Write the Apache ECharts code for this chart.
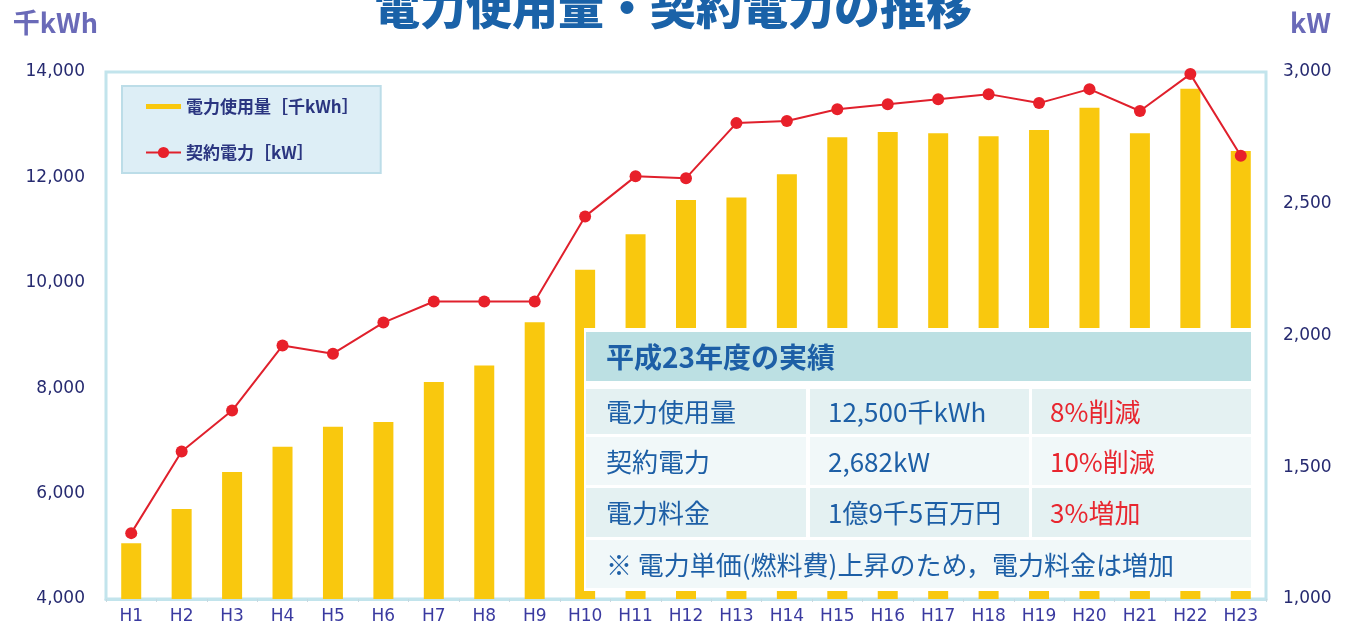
<!DOCTYPE html>
<html>
<head>
<meta charset="utf-8">
<script src="https://cdn.jsdelivr.net/npm/echarts@6/dist/echarts.min.js"></script>
<style>
  html, body { margin: 0; padding: 0; background: #ffffff; }
  #chart { width: 1346px; height: 627px; }
</style>
</head>
<body>
<div id="chart"></div>
<script>
// 年度
const categories = ['H1', 'H2', 'H3', 'H4', 'H5', 'H6', 'H7', 'H8', 'H9', 'H10', 'H11', 'H12',
  'H13', 'H14', 'H15', 'H16', 'H17', 'H18', 'H19', 'H20', 'H21', 'H22', 'H23']
// 電力使用量 [千kWh]
const usage = [5060, 5710, 6410, 6890, 7270, 7360, 8120, 8430, 9250, 10250, 10920, 11570,
  11620, 12060, 12760, 12860, 12840, 12780, 12900, 13320, 12840, 13680, 12500]
// 契約電力 [kW]
const contract = [1250, 1560, 1715, 1962, 1931, 2049, 2129, 2129, 2129, 2452, 2604, 2597,
  2806, 2814, 2859, 2878, 2897, 2916, 2882, 2935, 2852, 2992, 2682]
// 軸の目盛り
const leftTicks = [4000, 14000, 2000]
const rightTicks = [1000, 3000, 500]

// 平成23年度の実績
const tableTitle = '平成23年度の実績'
const tableRows = [
  ['電力使用量', '12,500千kWh', '8%削減'],
  ['契約電力', '2,682kW', '10%削減'],
  ['電力料金', '1億9千5百万円', '3%増加']
]
const tableNote = '※ 電力単価(燃料費)上昇のため，電力料金は増加'

const FONT = '"Noto Sans CJK JP", sans-serif'
const NUM_FONT = '"DejaVu Sans", sans-serif'
const BLUE = '#1d5fa6'
const RED = '#e8262f'

function fmt(v) {
  return v.toLocaleString('en-US')
}

// 表をgraphicで組み立てる（棒グラフの上に重ねる）
function buildTable() {
  const colX = [[586, 806], [810, 1029], [1032, 1251]]
  const rowY = [[389, 434], [437, 485], [488, 537]]
  const fills = ['#e4f1f2', '#f1f8f9', '#e4f1f2']
  const els = []
  els.push({ type: 'rect', shape: { x: 584, y: 328, width: 670, height: 263 }, style: { fill: '#ffffff' } })
  els.push({ type: 'rect', shape: { x: 586, y: 332, width: 665, height: 49 }, style: { fill: '#bce0e3' } })
  els.push({ type: 'text', x: 606, y: 357, style: { text: tableTitle, fill: BLUE, font: 'bold 28px ' + FONT, verticalAlign: 'middle' } })
  tableRows.forEach((row, r) => {
    row.forEach((txt, c) => {
      const [x0, x1] = colX[c]
      const [y0, y1] = rowY[r]
      els.push({ type: 'rect', shape: { x: x0, y: y0, width: x1 - x0, height: y1 - y0 }, style: { fill: fills[r] } })
      els.push({
        type: 'text', x: x0 + (c === 0 ? 20 : 18), y: (y0 + y1) / 2 + 1,
        style: { text: txt, fill: c === 2 ? RED : BLUE, font: '26px ' + FONT, verticalAlign: 'middle' }
      })
    })
  })
  els.push({ type: 'rect', shape: { x: 586, y: 540, width: 665, height: 48 }, style: { fill: '#f1f8f9' } })
  els.push({ type: 'text', x: 606, y: 565, style: { text: tableNote, fill: BLUE, font: '26px ' + FONT, verticalAlign: 'middle' } })
  els.forEach((e, i) => { e.z = 100; e.z2 = i })
  return els
}

const chart = echarts.init(document.getElementById('chart'))

const option = {
  backgroundColor: '#ffffff',
  animation: false,
  title: {
    text: '電力使用量・契約電力の推移',
    left: 'center',
    top: -21,
    textStyle: { color: '#1a62a8', fontSize: 46, fontWeight: 900, fontFamily: FONT }
  },
  legend: {
    orient: 'vertical',
    left: 122,
    top: 86,
    padding: [12, 22, 12, 23],
    itemGap: 29,
    itemWidth: 35,
    itemHeight: 14,
    backgroundColor: '#ddeef6',
    borderColor: '#bcdde8',
    borderWidth: 2,
    textStyle: { color: '#2a3580', fontSize: 17, fontWeight: 'bold', fontFamily: FONT },
    data: [
      { name: '電力使用量［千kWh］', icon: 'path://M0,0H35V5H0Z' },
      { name: '契約電力［kW］' }
    ]
  },
  grid: {
    left: 106,
    right: 80,
    top: 72,
    bottom: 28,
    show: true,
    borderColor: '#c2e4ec',
    borderWidth: 3,
    backgroundColor: '#ffffff'
  },
  xAxis: {
    type: 'category',
    data: categories,
    axisLine: { lineStyle: { color: '#c2e4ec', width: 3 } },
    axisTick: { show: true, length: 3, lineStyle: { color: '#c8d8e0' } },
    axisLabel: { color: '#3a3aa0', fontSize: 17, fontFamily: NUM_FONT, margin: 9 }
  },
  yAxis: [
    {
      type: 'value',
      name: '千kWh',
      nameLocation: 'end',
      nameGap: 36,
      nameTextStyle: { color: '#6a6ab8', fontSize: 27, fontWeight: 'bold', fontFamily: FONT, align: 'right', padding: [0, 8, 0, 0] },
      min: leftTicks[0],
      max: leftTicks[1],
      interval: leftTicks[2],
      splitLine: { show: false },
      axisLine: { show: false },
      axisTick: { show: false },
      axisLabel: { color: '#262a70', fontSize: 17, fontFamily: NUM_FONT, margin: 21, formatter: fmt }
    },
    {
      type: 'value',
      name: 'kW',
      nameLocation: 'end',
      nameGap: 36,
      nameTextStyle: { color: '#6a6ab8', fontSize: 27, fontWeight: 'bold', fontFamily: FONT, align: 'left', padding: [0, 0, 0, 24] },
      min: rightTicks[0],
      max: rightTicks[1],
      interval: rightTicks[2],
      splitLine: { show: false },
      axisLine: { show: false },
      axisTick: { show: false },
      axisLabel: { color: '#262a70', fontSize: 17, fontFamily: NUM_FONT, margin: 17, formatter: fmt }
    }
  ],
  series: [
    {
      name: '電力使用量［千kWh］',
      type: 'bar',
      data: usage,
      barWidth: 20,
      itemStyle: { color: '#f9c80e' }
    },
    {
      name: '契約電力［kW］',
      type: 'line',
      yAxisIndex: 1,
      data: contract,
      symbol: 'circle',
      symbolSize: 12,
      lineStyle: { color: '#e0202c', width: 2 },
      itemStyle: { color: '#e8202a' }
    }
  ],
  graphic: buildTable()
}

chart.setOption(option)
</script>
</body>
</html>
